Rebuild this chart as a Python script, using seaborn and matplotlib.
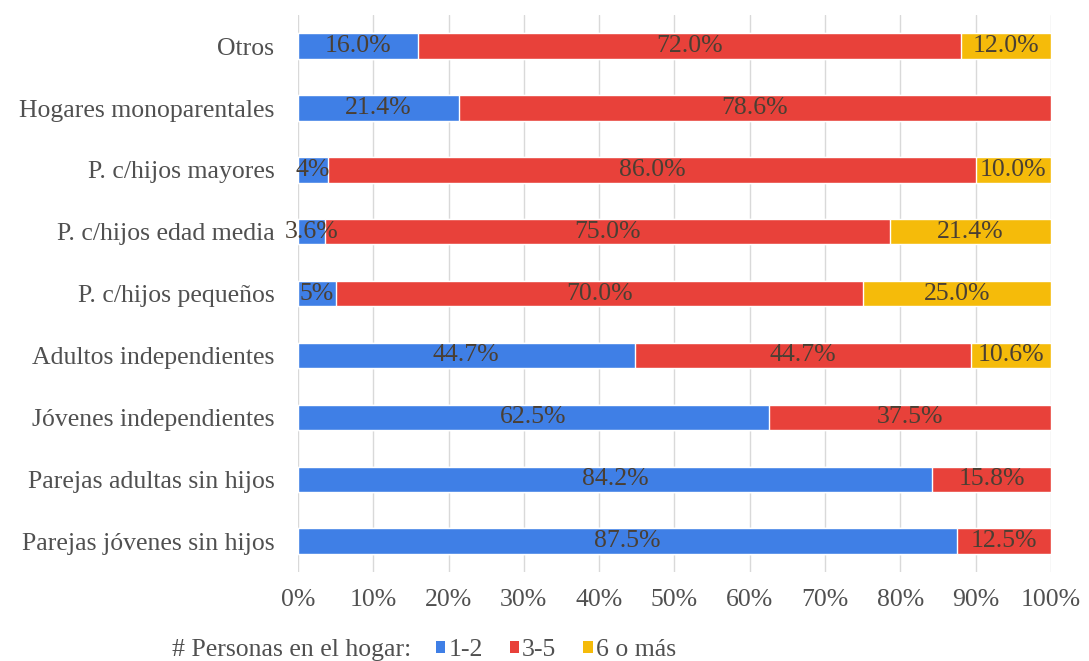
import pandas as pd
import seaborn as sns
import matplotlib.pyplot as plt
from matplotlib.patches import Patch

# =============================================
# Data
categories = ['Otros', 'Hogares monoparentales', 'P. c/hijos mayores',
              'P. c/hijos edad media', 'P. c/hijos pequeños',
              'Adultos independientes', 'Jóvenes independientes',
              'Parejas adultas sin hijos', 'Parejas jóvenes sin hijos']
p_1_2 = [16.0, 21.4, 4.0, 3.6, 5.0, 44.7, 62.5, 84.2, 87.5]
p_3_5 = [72.0, 78.6, 86.0, 75.0, 70.0, 44.7, 37.5, 15.8, 12.5]
p_6_mas = [12.0, 0.0, 10.0, 21.4, 25.0, 10.6, 0.0, 0.0, 0.0]
labels_1_2 = ['16.0%', '21.4%', '4%', '3.6%', '5%', '44.7%', '62.5%', '84.2%', '87.5%']
series_names = ['1-2', '3-5', '6 o más']
xticks = [0, 10, 20, 30, 40, 50, 60, 70, 80, 90, 100]

colors = ['#3F7FE6', '#E8413A', '#F5BB0A']
label_color = '#4a3f33'
text_color = '#505050'

sns.set_style("white")
plt.rcParams['font.family'] = ['Liberation Serif', 'DejaVu Serif']

df = pd.DataFrame({'cat': categories, 'a': p_1_2, 'b': p_3_5, 'c': p_6_mas})
df['ab'] = df['a'] + df['b']
df['abc'] = df['ab'] + df['c']

fig = plt.figure(figsize=(10.89, 6.61), dpi=100)
ax = fig.add_axes([0.2736, 0.1346, 0.6915, 0.8424])

# stacked bars: draw cumulative totals back to front
sns.barplot(data=df, x='abc', y='cat', color=colors[2], saturation=1, width=0.41, ax=ax, zorder=3)
sns.barplot(data=df, x='ab', y='cat', color=colors[1], saturation=1, width=0.41, ax=ax, zorder=3)
sns.barplot(data=df, x='a', y='cat', color=colors[0], saturation=1, width=0.41, ax=ax, zorder=3)

# segment labels
lab_fs = 18.5
for i, row in df.iterrows():
    ax.text(row['a'] / 2, i, labels_1_2[i], ha='center', va='center',
            fontsize=lab_fs, color=label_color, zorder=5)
    if row['b'] > 0:
        ax.text(row['a'] + row['b'] / 2, i, '{:.1f}%'.format(row['b']), ha='center', va='center',
                fontsize=lab_fs, color=label_color, zorder=5)
    if row['c'] > 0:
        ax.text(row['ab'] + row['c'] / 2, i, '{:.1f}%'.format(row['c']), ha='center', va='center',
                fontsize=lab_fs, color=label_color, zorder=5)

ax.set_xlim(0, 100)
ax.set_ylim(len(categories) - 0.5, -0.5)
ax.set_xticks(xticks)
ax.set_xticklabels(['{}%'.format(t) for t in xticks])
ax.set(xlabel=None, ylabel=None)
ax.tick_params(axis='both', length=0, labelcolor=text_color)
ax.tick_params(axis='x', pad=12, labelsize=18.5)
ax.tick_params(axis='y', pad=17, labelsize=18.5)
ax.grid(axis='x', color='#d9d9d9', linewidth=1, zorder=0)
ax.grid(axis='y', visible=False)
ax.set_axisbelow(True)
for s in ax.spines.values():
    s.set_visible(False)

# legend
leg_y = 0.0166
fig.text(0.158, leg_y, '# Personas en el hogar:', fontsize=18.5, color=text_color, va='center')
handles = [Patch(facecolor=c, edgecolor='none') for c in colors]
fig.legend(handles, series_names, loc='center left', bbox_to_anchor=(0.4004, leg_y), ncol=3,
           frameon=False, fontsize=18.5, handlelength=0.36, handleheight=0.36,
           handletextpad=0.12, columnspacing=1.05, labelcolor=text_color,
           borderpad=0, borderaxespad=0)

plt.savefig('out.png', dpi=100)
plt.close()
